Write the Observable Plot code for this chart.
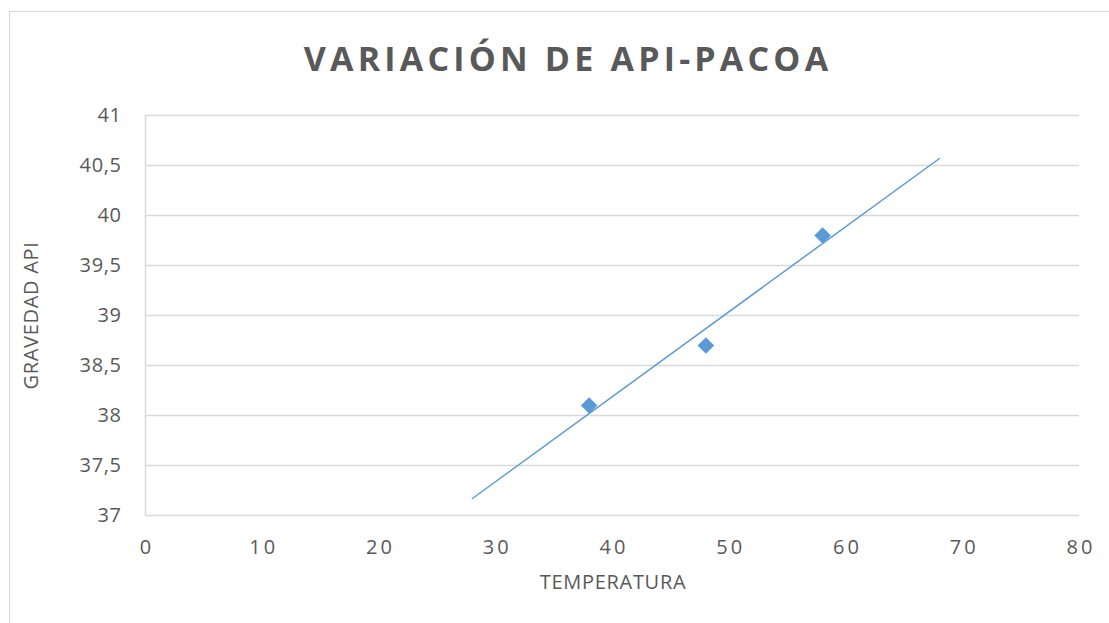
<!DOCTYPE html>
<html>
<head>
<meta charset="utf-8">
<script src="https://cdn.jsdelivr.net/npm/d3@7"></script>
<script src="https://cdn.jsdelivr.net/npm/@observablehq/plot@0.6"></script>
<style>
  html, body { margin: 0; padding: 0; background: #fff; }
  #wrap { position: relative; width: 1109px; height: 623px; overflow: hidden; background: #fff; }
  #frame { position: absolute; left: 9px; top: 11px; width: 1200px; height: 700px; border: 1.5px solid #d9d9d9; box-sizing: border-box; }
  #title { position: absolute; left: 0; width: 1136px; top: 35px; text-align: center;
    font-family: "Open Sans", sans-serif; font-weight: 700; font-size: 34px; letter-spacing: 4.2px; color: #595959; }
  #chart { position: absolute; left: 0; top: 0; }
  #chart svg { font-family: "Open Sans", sans-serif; }
  #chart g[aria-label="x-axis tick label"] text { letter-spacing: 3px; }
  #chart g[aria-label="y-axis tick label"] text { letter-spacing: 0.6px; }
  #chart g[aria-label="text"] text { letter-spacing: 0.7px; }
</style>
</head>
<body>
<div id="wrap">
  <div id="frame"></div>
  <div id="chart"></div>
  <div id="title">VARIACIÓN DE API-PACOA</div>
</div>
<script>
// Data
const temperatura = [38, 48, 58];
const gravedadAPI = [38.1, 38.7, 39.8];
// Linear trendline (with forecast) endpoints
const trendX = [28, 68];
const trendY = [37.17, 40.57];
// Tick values
const xTicks = [0, 10, 20, 30, 40, 50, 60, 70, 80];
const yTicks = [37, 37.5, 38, 38.5, 39, 39.5, 40, 40.5, 41];

const points = temperatura.map((t, i) => ({x: t, y: gravedadAPI[i]}));
const trend = trendX.map((t, i) => ({x: t, y: trendY[i]}));
const color = "#5b9bd5";
const fmt = d => String(d).replace(".", ",");

const plot = Plot.plot({
  width: 1109,
  height: 623,
  marginLeft: 145,
  marginRight: 30,
  marginTop: 115,
  marginBottom: 108,
  style: {background: "transparent", overflow: "visible"},
  x: {domain: [0, 80], ticks: xTicks},
  y: {domain: [37, 41], ticks: yTicks},
  marks: [
    Plot.ruleY(yTicks, {stroke: "#d9d9d9", strokeWidth: 1.5}),
    Plot.ruleX([0], {y1: 37, y2: 41, stroke: "#d9d9d9", strokeWidth: 1.5}),
    Plot.axisX({ticks: xTicks, tickSize: 0, tickPadding: 24, tickFormat: d => String(d),
      fontSize: 20, fill: "#595959", label: null, dx: 1.5}),
    Plot.axisY({ticks: yTicks, tickSize: 0, tickPadding: 24, tickFormat: fmt,
      fontSize: 20, fill: "#595959", label: null}),
    Plot.line(trend, {x: "x", y: "y", stroke: color, strokeWidth: 1.5}),
    Plot.dot(points, {x: "x", y: "y", symbol: "diamond2", r: 7.5, fill: color, stroke: "none"}),
    Plot.text(["TEMPERATURA"], {frameAnchor: "bottom", dy: 67, dx: 0.5, fontSize: 20, fill: "#595959",
      textAnchor: "middle", lineAnchor: "middle"}),
    Plot.text(["GRAVEDAD API"], {frameAnchor: "left", dx: -114, rotate: -90, fontSize: 20, fill: "#595959",
      textAnchor: "middle", lineAnchor: "middle"})
  ]
});
document.getElementById("chart").appendChild(plot);
</script>
</body>
</html>
